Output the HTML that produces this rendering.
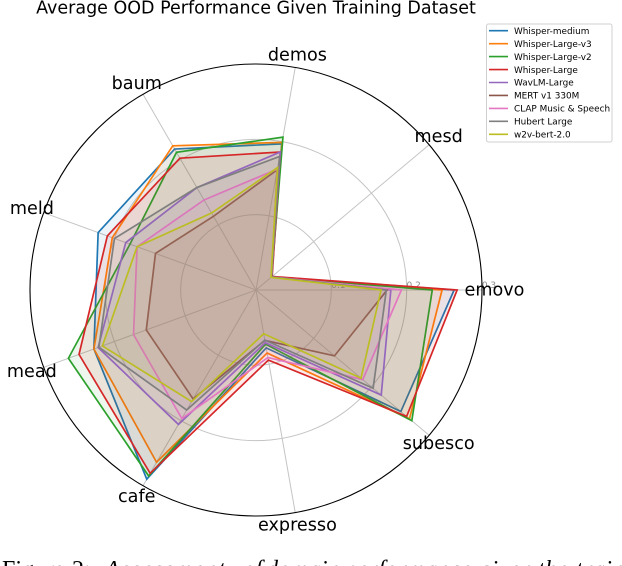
<!DOCTYPE html>
<html>
<head>
<meta charset="utf-8">
<style>
html,body{margin:0;padding:0;background:#fff;}
body{width:622px;height:566px;overflow:hidden;}
svg{display:block;}
text{font-family:"DejaVu Sans","Liberation Sans",sans-serif;}
</style>
</head>
<body>
<svg id="chart" xmlns="http://www.w3.org/2000/svg" width="622" height="566" viewBox="0 0 622 566">
<text x="256" y="13.5" text-anchor="middle" font-size="17.5" fill="#000">Average OOD Performance Given Training Dataset</text>
<g id="grid"></g>
<g id="series"></g>
<g id="frame"></g>
<g id="legend"></g>
<g font-size="24" fill="#000">
<text x="2" y="577" style="font-family:'Liberation Serif',serif">Figure</text>
<text x="72" y="577" style="font-family:'Liberation Serif',serif">2:</text>
<g font-style="italic" letter-spacing="0.4">
<text x="105" y="577" letter-spacing="1.2" style="font-family:'Liberation Serif',serif">Assessment</text>
<text x="243" y="577" style="font-family:'Liberation Serif',serif">of</text>
<text x="266" y="577" style="font-family:'Liberation Serif',serif">domain</text>
<text x="345" y="577" style="font-family:'Liberation Serif',serif">performance</text>
<text x="479" y="577" style="font-family:'Liberation Serif',serif">given</text>
<text x="538" y="577" style="font-family:'Liberation Serif',serif">the</text>
<text x="576" y="577" style="font-family:'Liberation Serif',serif">training</text>
</g>
</g>
</svg>
<script>
const categories = ['emovo','mesd','demos','baum','meld','mead','cafe','expresso','subesco'];
const radialTicks = [0.1,0.2,0.3];
const seriesNames = ['Whisper-medium','Whisper-Large-v3','Whisper-Large-v2','Whisper-Large','WavLM-Large','MERT v1 330M','CLAP Music & Speech','Hubert Large','w2v-bert-2.0'];
const seriesColors = ['#1f77b4','#ff7f0e','#2ca02c','#d62728','#9467bd','#8c564b','#e377c2','#7f7f7f','#bcbd22'];
const whisperMedium = [0.263,0.027,0.197,0.216,0.223,0.229,0.290,0.078,0.251];
const whisperLargeV3 = [0.247,0.027,0.199,0.221,0.203,0.229,0.264,0.085,0.266];
const whisperLargeV2 = [0.234,0.027,0.206,0.211,0.178,0.265,0.285,0.073,0.270];
const whisperLarge = [0.267,0.028,0.186,0.202,0.210,0.250,0.281,0.0945,0.261];
const wavlmLarge = [0.179,0.027,0.186,0.157,0.184,0.223,0.206,0.071,0.217];
const mertV1 = [0.174,0.027,0.162,0.113,0.142,0.155,0.167,0.068,0.136];
const clapMusic = [0.193,0.027,0.163,0.138,0.168,0.173,0.197,0.091,0.185];
const hubertLarge = [0.173,0.027,0.180,0.157,0.200,0.222,0.184,0.0675,0.203];
const w2vBert = [0.166,0.026,0.165,0.118,0.168,0.217,0.171,0.059,0.182];
const seriesValues = [whisperMedium,whisperLargeV3,whisperLargeV2,whisperLarge,wavlmLarge,mertV1,clapMusic,hubertLarge,w2vBert];

const NS = 'http://www.w3.org/2000/svg';
const cx = 256, cy = 290, R = 226, rMax = 0.3;
function angleAt(i){ return i * 2 * Math.PI / categories.length; }
function radius(v){ return v / rMax * R; }
function px(i,r){ return cx + r * Math.cos(angleAt(i)); }
function py(i,r){ return cy - r * Math.sin(angleAt(i)); }
function make(tag, parent, attrs){
  const el = document.createElementNS(NS, tag);
  for (const k in attrs) el.setAttribute(k, attrs[k]);
  parent.appendChild(el);
  return el;
}
const grid = document.getElementById('grid');
const seriesG = document.getElementById('series');
const frame = document.getElementById('frame');
const legend = document.getElementById('legend');

radialTicks.forEach(function(t){
  if (t < rMax) {
    const ring = make('circle', grid, {cx:cx, cy:cy, r:radius(t), fill:'none', stroke:'#c4c4c4', 'stroke-width':1});
    
    
  }
  const lab = make('text', grid, {x:cx + radius(t) + 7, y:cy - 2, 'text-anchor':'middle', 'font-size':9, fill:'#8a8a8a'});
  lab.textContent = t.toFixed(1);
  
  
});
categories.forEach(function(c,i){
  const sp = make('line', grid, {x1:cx, y1:cy, x2:px(i,R), y2:py(i,R), stroke:'#c4c4c4', 'stroke-width':1});
  
  
});
seriesValues.forEach(function(vals,s){
  const pts = vals.map(function(v,i){ return px(i,radius(v)).toFixed(2)+','+py(i,radius(v)).toFixed(2); }).join(' ');
  const fill = make('polygon', seriesG, {points:pts, fill:seriesColors[s], 'fill-opacity':0.085, stroke:'none'});
  
  
  const line = make('polygon', seriesG, {points:pts, fill:'none', stroke:seriesColors[s], 'stroke-width':1.7, 'stroke-linejoin':'miter'});
  
  
});
const outer = make('circle', frame, {cx:cx, cy:cy, r:R, fill:'none', stroke:'#000', 'stroke-width':1.1});


categories.forEach(function(c,i){
  const t = make('text', frame, {x:px(i,238.5), y:py(i,238.5)+5.5, 'text-anchor':'middle', 'font-size':17.6, fill:'#000'});
  t.textContent = c;
  
  
});
const box = make('rect', legend, {x:486.5, y:24, width:125.5, height:118, rx:2, fill:'#fff', stroke:'#d0d0d0', 'stroke-width':1});


seriesNames.forEach(function(n,s){
  const y = 30.7 + s * 12.95;
  const sw = make('line', legend, {x1:489, x2:508, y1:y, y2:y, stroke:seriesColors[s], 'stroke-width':1.6});
  
  
  const t = make('text', legend, {x:514, y:y+3.2, 'font-size':8.9, fill:'#000'});
  t.textContent = n;
  
  
});
</script>
</body>
</html>
